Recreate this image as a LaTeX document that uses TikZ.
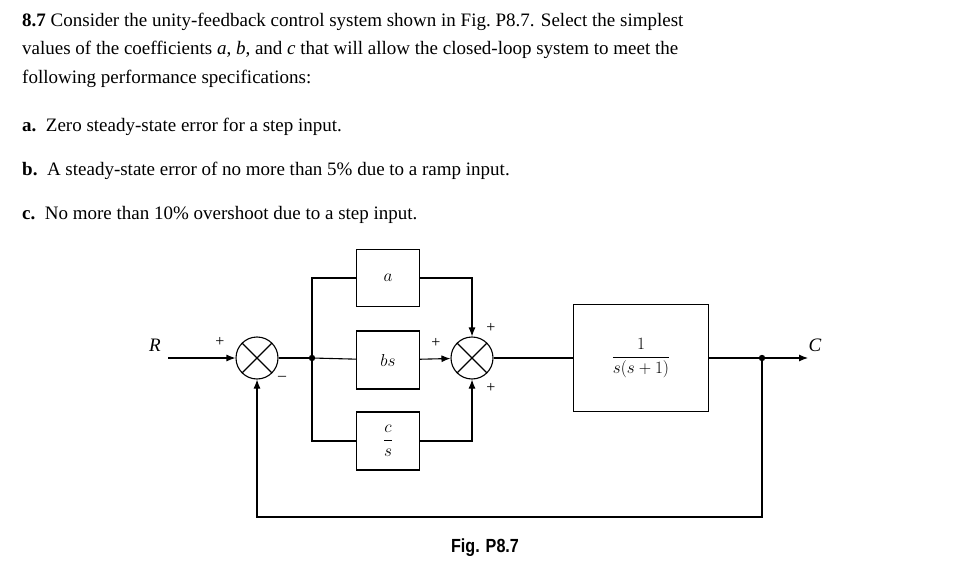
\documentclass[tikz,border=0pt]{standalone}
\usepackage{fontspec}
\setmainfont{Liberation Serif}
\newfontfamily\figfont{Liberation Sans}[FakeStretch=0.85]
\usetikzlibrary{arrows.meta}
\begin{document}
\begin{tikzpicture}[x=1pt,y=-1pt,
  txt/.style={anchor=base west,inner sep=0,font=\fontsize{19}{19}\selectfont},
  blk/.style={draw,line width=1.1pt,minimum width=63pt,inner sep=0},
  sumj/.style={draw,line width=1.1pt,circle,minimum size=42pt,inner sep=0},
  ln/.style={line width=1.1pt},
  ar/.style={ln,-{Latex[length=9pt,width=7pt]}},
  sg/.style={font=\fontsize{16}{16}\selectfont,inner sep=0},
  lab/.style={font=\fontsize{19}{19}\selectfont\itshape,inner sep=0}]
\useasboundingbox (0,0) rectangle (955,577);
\node[txt] (t1) at (22,27) {\textbf{8.7} Consider the unity-feedback control system shown in Fig.~P8.7. Select the simplest};
\node[txt] (t2) at (22,55) {values of the coefficients \textit{a}, \textit{b}, and \textit{c} that will allow the closed-loop system to meet the};
\node[txt] (t3) at (22,84) {following performance specifications:};
\node[txt] (t4) at (22,132) {\textbf{a.}\enspace Zero steady-state error for a step input.};
\node[txt] (t5) at (22,176) {\textbf{b.}\enspace A steady-state error of no more than 5\% due to a ramp input.};
\node[txt] (t6) at (22,220) {\textbf{c.}\enspace No more than 10\% overshoot due to a step input.};

\node[sumj] (s1) at (257,358) {};
\draw[ln] (s1.north west) -- (s1.south east) (s1.north east) -- (s1.south west);
\node[sumj] (s2) at (472,358) {};
\draw[ln] (s2.north west) -- (s2.south east) (s2.north east) -- (s2.south west);
\node[blk,minimum height=57pt] (ba) at (388,278) {\fontsize{19}{19}\selectfont$a$};
\node[blk,minimum height=58pt] (bb) at (388,360) {\fontsize{19}{19}\selectfont$bs$};
\node[blk,minimum height=58pt] (bc) at (388,441) {\fontsize{19}{19}\selectfont$\displaystyle\frac{c}{s}$};
\node[blk,minimum width=135pt,minimum height=107pt] (g) at (641,358) {\fontsize{17}{17}\selectfont$\displaystyle\frac{1}{s(s+1)}$};
\coordinate (in) at (168,358);
\coordinate (br) at (312,358);
\coordinate (out) at (762,358);
\coordinate (end) at (808,358);
\node[lab] (R) at (155,345) {R};
\node[lab] (C) at (815,345) {C};
\draw[ar] (in) -- (s1);
\draw[ln] (s1) -- (br);
\fill (br) circle (3.2pt);
\fill (out) circle (3.2pt);
\draw[ln] (br) -- (bb);
\draw[ln] (br) |- (ba.west);
\draw[ln] (br) |- (bc.west);
\draw[ar] (bb) -- (s2);
\draw[ar] (ba.east) -| (s2.north);
\draw[ar] (bc.east) -| (s2.south);
\draw[ln] (s2) -- (g);
\draw[ar] (g) -- (end);
\draw[ar] (out) -- (762,517) -| (s1.south);
\node[sg] (p1) at (220,342) {+};
\node[sg] (m1) at (282,378) {--};
\node[sg] (p2) at (436,343) {+};
\node[sg] (p3) at (491,328) {+};
\node[sg] (p4) at (491,388) {+};
\node[font=\figfont\bfseries\fontsize{19}{19}\selectfont,inner sep=0] (fig) at (485,548) {Fig. P8.7};
\end{tikzpicture}
\end{document}
